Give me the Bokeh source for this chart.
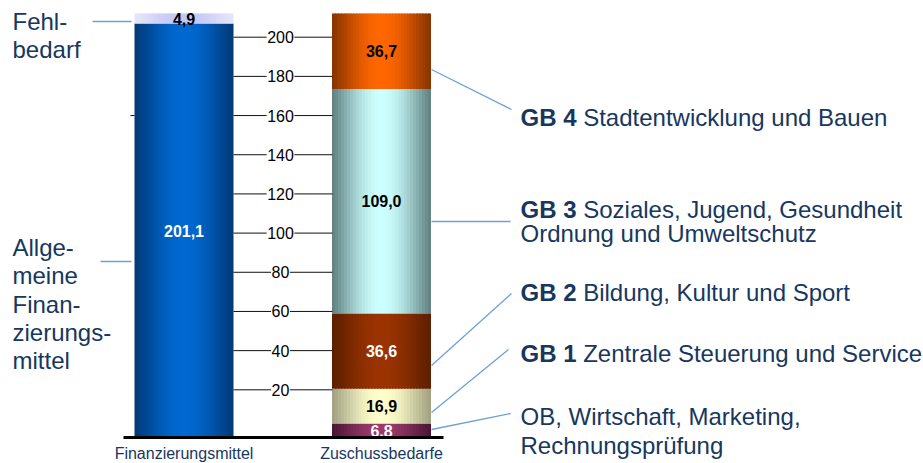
import numpy as np
from bokeh.plotting import figure
from bokeh.models import Range1d, ColumnDataSource
from bokeh.core.properties import value
from bokeh.embed import file_html
from bokeh.resources import INLINE

# ---------------- data ----------------
categories = ["Finanzierungsmittel", "Zuschussbedarfe"]
fin_segments = ["Allgemeine Finanzierungsmittel", "Fehlbedarf"]
fin_values = [201.1, 4.9]
zus_segments = ["OB, Wirtschaft, Marketing, Rechnungsprüfung",
                "GB 1 Zentrale Steuerung und Service",
                "GB 2 Bildung, Kultur und Sport",
                "GB 3 Soziales, Jugend, Gesundheit Ordnung und Umweltschutz",
                "GB 4 Stadtentwicklung und Bauen"]
zus_values = [6.8, 16.9, 36.6, 109.0, 36.7]
tick_values = [20, 40, 60, 80, 100, 120, 140, 160, 180, 200]
tick_labels = ["20", "40", "60", "80", "100", "120", "140", "160", "180", "200"]

# ---------------- styling ----------------
FONT = value("Liberation Sans")
NAVY = "#17375e"
LINK = "#6f9fd6"
fin_colors = [("#003a78", "#0068d0"), ("#e6e6fa", "#c6c6f6")]
fin_text = ["white", "black"]
zus_colors = [("#4a1536", "#9c3a6c"), ("#a2a282", "#ffffcc"), ("#5c1f00", "#9a3300"),
              ("#628282", "#ccffff"), ("#883400", "#ff6600")]
zus_text = ["white", "black", "white", "black", "black"]

FIG_W, FIG_H = 923, 463
BASE_PX = FIG_H - 437.0     # figure pixel (from bottom) of value 0
TOP_PX = FIG_H - 13.0       # figure pixel of stack top
top_value = max(sum(fin_values), sum(zus_values))
PPU = (TOP_PX - BASE_PX) / top_value

def sy(screen_y):
    return (FIG_H - screen_y - BASE_PX) / PPU

p = figure(width=FIG_W, height=FIG_H, output_backend="svg", toolbar_location=None,
           x_range=Range1d(0, FIG_W),
           y_range=Range1d(-BASE_PX / PPU, (FIG_H - BASE_PX) / PPU),
           min_border=0, outline_line_color=None)
p.axis.visible = False
p.grid.visible = False
p.background_fill_color = "white"
p.border_fill_color = "white"

# separate scale for the printed axis (as in the original, not identical to bars)
T0_PX, T_PPU = FIG_H - 428.5, 1.959
p.extra_y_ranges = {"ticks": Range1d(-T0_PX / T_PPU, (FIG_H - T0_PX) / T_PPU)}

BAR_W = 99.0
bar_centers = [183.5, 381.0]
N_STRIPS = 33

def mix(c1, c2, f):
    a = np.array([int(c1[i:i + 2], 16) for i in (1, 3, 5)], float)
    b = np.array([int(c2[i:i + 2], 16) for i in (1, 3, 5)], float)
    c = a + (b - a) * f
    return "#%02x%02x%02x" % tuple(int(round(v)) for v in c)

def stacked_bar(xc, vals, colors):
    tops = np.cumsum(vals)
    bottoms = tops - np.array(vals)
    lefts, rights, bs, ts, cs = [], [], [], [], []
    sw = BAR_W / N_STRIPS
    x_left = xc - BAR_W / 2
    for b, t, (edge, center) in zip(bottoms, tops, colors):
        for k in range(N_STRIPS):
            tt = (k + 0.5) / N_STRIPS
            f = np.sin(np.pi * tt) ** 1.2
            lefts.append(x_left + sw * k)
            rights.append(min(x_left + sw * (k + 1) + 1.5, x_left + BAR_W))
            bs.append(b); ts.append(t); cs.append(mix(edge, center, f))
    src = ColumnDataSource(dict(left=lefts, right=rights, bottom=bs, top=ts, color=cs))
    p.quad(left="left", right="right", bottom="bottom", top="top", fill_color="color",
           line_color=None, source=src)
    return bottoms, tops

fb, ft = stacked_bar(bar_centers[0], fin_values, fin_colors)
zb, zt = stacked_bar(bar_centers[1], zus_values, zus_colors)

def fmt(v):
    return ("%.1f" % v).replace(".", ",")

lab_x = [bar_centers[0]] * len(fin_values) + [bar_centers[1]] * len(zus_values)
lab_y = list((fb + ft) / 2) + list((zb + zt) / 2)
lab_t = [fmt(v) for v in fin_values] + [fmt(v) for v in zus_values]
lab_c = fin_text + zus_text
p.text(x=lab_x, y=lab_y, text=lab_t, text_color=lab_c, text_font=FONT,
       text_font_size="16px", text_font_style="bold", text_align="center",
       text_baseline="middle")

# middle axis: lines between bars with labels
tick_lx = 280
TFS = 16
gap = [len(s) * 0.556 * TFS / 2 + 0.5 for s in tick_labels]
p.segment(x0=[233] * len(tick_values), x1=[tick_lx - g for g in gap],
          y0=tick_values, y1=tick_values, line_color="#111111", line_width=1,
          y_range_name="ticks")
p.segment(x0=[tick_lx + g for g in gap], x1=[332] * len(tick_values),
          y0=tick_values, y1=tick_values, line_color="#111111", line_width=1,
          y_range_name="ticks")
p.text(x=[tick_lx] * len(tick_values), y=tick_values, text=tick_labels,
       text_font=FONT, text_font_size="%dpx" % TFS, text_color="#000000",
       text_align="center", text_baseline="middle", y_range_name="ticks")
p.segment(x0=[130], x1=[134], y0=[tick_values[7]], y1=[tick_values[7]],
          line_color="#111111", line_width=1, y_range_name="ticks")

# baseline
p.segment(x0=[123], x1=[443], y0=[0], y1=[0], line_color="black", line_width=3)

# category labels
p.text(x=bar_centers, y=[sy(453)] * 2, text=categories, text_font=FONT,
       text_font_size="16px", text_color=NAVY, text_align="center",
       text_baseline="middle")

# left annotations
p.segment(x0=[92, 100], x1=[131, 131], y0=[sy(21), sy(261)],
          y1=[sy(21), sy(261)], line_color=LINK, line_width=1.3)
left_lines = ["Fehl-", "bedarf", "Allge-", "meine", "Finan-", "zierungs-", "mittel"]
left_y = [21, 49, 247, 275, 304, 332, 360]
p.text(x=[12] * len(left_lines), y=[sy(v) for v in left_y], text=left_lines,
       text_font=FONT, text_font_size="24px", text_color=NAVY,
       text_align="left", text_baseline="middle")

# right annotations
p.segment(x0=[431] * 5, x1=[511, 510, 511, 508, 510],
          y0=[sy(v) for v in [69, 221, 365, 412, 429]],
          y1=[sy(v) for v in [109, 221, 293, 349, 413]],
          line_color=LINK, line_width=1.3)
FS = 24
bold_parts = ["GB 4", "GB 3", "GB 2", "GB 1"]
bold_y = [117, 209, 292, 353]
rest_parts = ["Stadtentwicklung und Bauen", "Soziales, Jugend, Gesundheit",
              "Bildung, Kultur und Sport", "Zentrale Steuerung und Service"]
RX = 520
bw = (0.778 + 0.722 + 0.278 + 0.556 + 0.278) * FS
p.text(x=[RX] * 4, y=[sy(v) for v in bold_y], text=bold_parts, text_font=FONT,
       text_font_size="%spx" % FS, text_font_style="bold", text_color=NAVY,
       text_align="left", text_baseline="middle")
p.text(x=[RX + bw] * 4, y=[sy(v) for v in bold_y], text=rest_parts, text_font=FONT,
       text_font_size="%spx" % FS, text_color=NAVY, text_align="left",
       text_baseline="middle")
p.text(x=[RX] * 3, y=[sy(v) for v in [233, 416, 445]],
       text=["Ordnung und Umweltschutz", "OB, Wirtschaft, Marketing,", "Rechnungsprüfung"],
       text_font=FONT, text_font_size="%spx" % FS, text_color=NAVY,
       text_align="left", text_baseline="middle")

open("out.html", "w").write(file_html(p, INLINE))
